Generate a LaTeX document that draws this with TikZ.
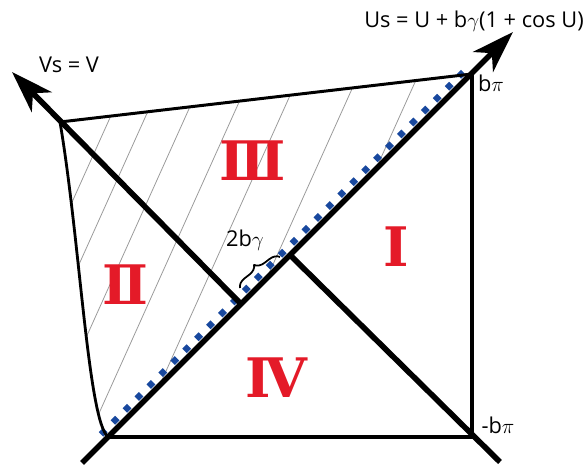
\documentclass[tikz,border=0pt]{standalone}
\usepackage{fontspec}
\setmainfont{Open Sans}
\newfontfamily\numfont{DejaVu Serif}
\usetikzlibrary{arrows.meta,calc,decorations.pathreplacing}
\definecolor{regred}{RGB}{228,26,40}
\definecolor{markblue}{RGB}{24,72,158}

\begin{document}
\begin{tikzpicture}[x=0.02cm,y=-0.02cm,>=Stealth,line join=round,
  axis/.style={line width=3.2pt,-{Stealth[length=24pt,width=16pt,inset=7pt]}},
  hatch/.style={gray!80,line width=0.45pt},
  region/.style={regred,font=\numfont\bfseries\fontsize{31}{33}\selectfont},
  lbl/.style={font=\fontsize{12.4}{14}\selectfont}]
  \useasboundingbox (0,0) rectangle (585,465);
  \coordinate (A) at (108,437);   % corner, low
  \coordinate (B) at (472,74);    % b pi
  \coordinate (C) at (472,437);   % -b pi
  \coordinate (D) at (60,122);
  \coordinate (M) at (290,255);
  \coordinate (S) at (240,303);
  \coordinate (UB) at (82,463);
  \coordinate (UT) at (513,32);
  \coordinate (VB) at (500,462);
  \coordinate (VT) at (12,72);
  % hatching of the left region
  \begin{scope}
    \clip (D) -- (B) -- (A) .. controls (88,420) and (80,240) .. (D) -- cycle;
    \foreach \x in {-35,0,40,87,135,194,254}
      \draw[hatch] (\x,440) -- ++(198,-440);
  \end{scope}
  % blue marks along the diagonal
  \foreach \u in {0,...,30}
    \fill[markblue] ($(A)+({\u*11.93-4.8},{-\u*11.93-4.8})$)
      +(-4.4,0) -- +(0,-4.4) -- +(4.4,0) -- +(0,4.4) -- cycle;
  \draw[line width=1.7pt] (D) -- (B);
  \draw[line width=2.2pt] (B) -- (C) -- (A);
  \draw[line width=1.6pt] (D) .. controls (80,240) and (88,420) .. (A);
  \draw[axis] (UB) -- (UT);
  \draw[axis] (S) -- (VT);
  \draw[line width=3.2pt] (VB) -- (M);
  \draw[line width=1pt,decorate,decoration={brace,amplitude=5.5pt}] (240,288) -- (280,257);
  \node[lbl] (gap) at (245,240) {2b$\gamma$};
  \node[lbl] (us) at (474,21) {Us = U + b$\gamma$(1 + cos U)};
  \node[lbl] (vs) at (69,65) {Vs = V};
  \node[lbl] (bp) at (491,83) {b$\pi$};
  \node[lbl] (mbp) at (498,425) {-b$\pi$};
  \node[region] (r1) at (396,247) {Ⅰ};
  \node[region] (r2) at (125,285) {Ⅱ};
  \node[region] (r3) at (253,161) {Ⅲ};
  \node[region] (r4) at (276,378) {Ⅳ};
\end{tikzpicture}
\end{document}
